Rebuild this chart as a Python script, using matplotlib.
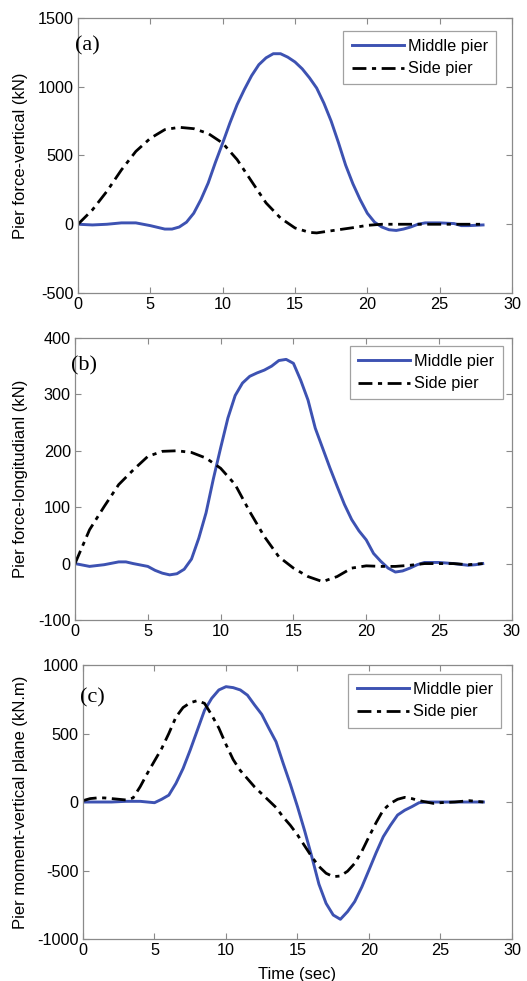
import matplotlib
matplotlib.use("Agg")
from matplotlib import pyplot as plt
from matplotlib.transforms import blended_transform_factory

plt.rc("font", family=["Liberation Sans", "DejaVu Sans"], size=11.7)
plt.rc("axes", unicode_minus=False)

# (a) pier force - vertical
t_a_mid = [0, 1, 2, 3, 4, 5, 6, 6.5, 7, 7.5, 8, 8.5, 9, 9.5, 10, 10.5, 11, 11.5, 12, 12.5,
           13, 13.5, 14, 14.5, 15, 15.5, 16, 16.5, 17, 17.5, 18, 18.5, 19, 19.5, 20, 20.5,
           21, 21.5, 22, 22.5, 23, 23.5, 24, 25, 26, 26.5, 27, 28]
a_mid = [0, -5, 0, 10, 10, -10, -35, -35, -20, 15, 80, 180, 300, 450, 590, 736, 870, 980, 1080, 1160,
         1210, 1240, 1240, 1215, 1180, 1130, 1065, 990, 880, 750, 595, 430, 295, 180, 80, 15,
         -20, -40, -45, -35, -20, 0, 10, 10, 5, -10, -10, -5]
t_a_side = [0, 1, 2, 3, 4, 5, 6, 7, 8, 9, 10, 11, 12, 13, 14, 15, 16, 16.5, 17, 18, 19, 20, 21, 22, 28]
a_side = [0, 105, 240, 395, 530, 625, 688, 705, 695, 660, 590, 470, 312, 155, 45, -27, -59, -63, -55, -40, -25, -8, 0, 0, 0]

# (b) pier force - longitudinal
t_b_mid = [0, 1, 2, 3, 3.5, 4, 5, 5.5, 6, 6.5, 7, 7.5, 8, 8.5, 9, 9.5, 10, 10.5, 11, 11.5,
           12, 12.5, 13, 13.5, 14, 14.5, 15, 15.5, 16, 16.5, 17, 17.5, 18, 18.5, 19, 19.5,
           20, 20.5, 21, 21.5, 22, 22.5, 23, 23.5, 24, 25, 26, 27, 27.5, 28]
b_mid = [0, -5, -2, 3, 3, 0, -5, -12, -17, -20, -18, -10, 8, 45, 90, 150, 205, 258, 298, 320,
         332, 338, 343, 350, 360, 362, 355, 325, 290, 240, 205, 170, 137, 105, 78, 58,
         42, 18, 4, -8, -15, -13, -8, -2, 2, 2, 0, -3, -2, 0]
t_b_side = [0, 1, 2, 3, 4, 5, 6, 7, 8, 9, 10, 11, 12, 13, 14, 15, 16, 17, 18, 19, 20, 21, 22, 23, 24, 26, 27, 28]
b_side = [0, 60, 101, 140, 166, 190, 199, 200, 197, 187, 169, 140, 92, 48, 12, -8, -23, -32, -23, -8, -4, -5, -5, -3, 0, 0, -2, 0]

# (c) pier moment - vertical plane
t_c_mid = [0, 1, 2, 3, 4, 4.5, 5, 5.5, 6, 6.5, 7, 7.5, 8, 8.5, 9, 9.5, 10, 10.5, 11, 11.5,
           12, 12.5, 13, 13.5, 14, 14.5, 15, 15.5, 16, 16.5, 17, 17.5, 18, 18.5, 19, 19.5,
           20, 20.5, 21, 21.5, 22, 22.5, 23, 23.5, 24, 28]
c_mid = [0, 0, 0, 5, 5, 0, -5, 20, 50, 136, 245, 380, 525, 670, 757, 818, 842, 835, 818, 780,
         708, 640, 538, 440, 282, 130, -34, -210, -399, -600, -740, -825, -856, -800, -727, -620,
         -496, -370, -253, -170, -95, -60, -34, -5, 0, 0]
t_c_side = [0, 0.5, 1, 1.5, 2, 2.5, 3, 3.5, 4, 4.5, 5, 5.5, 6, 6.5, 7, 7.5, 8, 8.5, 9, 9.5,
            10, 10.5, 11, 11.5, 12, 12.5, 13, 13.5, 14, 14.5, 15, 15.5, 16, 16.5, 17, 17.5,
            18, 18.5, 19, 19.5, 20, 20.5, 21, 21.5, 22, 22.5, 23, 23.5, 24, 24.5, 25, 26, 27, 27.5, 28]
c_side = [10, 25, 30, 30, 25, 20, 15, 30, 112, 209, 300, 390, 500, 620, 690, 725, 740, 720, 635, 540,
          420, 310, 230, 170, 110, 60, 10, -40, -110, -170, -240, -320, -400, -470, -520, -545,
          -540, -505, -448, -360, -253, -150, -58, -10, 20, 34, 25, 10, 0, -10, -5, 0, 10, 5, 0]

blue = "#3d52b2"
grey = "#8a8a8a"

fig = plt.figure(figsize=(5.27, 9.81), dpi=100)

panels = [
    ([0.148, 0.7013, 0.8235, 0.2804], t_a_mid, a_mid, t_a_side, a_side, (-500, 1500), range(-500, 1501, 500),
     "Pier force-vertical (kN)", "(a)", 0.90, (0.963, 0.953)),
    ([0.1423, 0.368, 0.829, 0.2875], t_b_mid, b_mid, t_b_side, b_side, (-100, 400), range(-100, 401, 100),
     "Pier force-longitudianl (kN)", "(b)", 0.90, (0.979, 0.972)),
    ([0.1575, 0.0428, 0.814, 0.2793], t_c_mid, c_mid, t_c_side, c_side, (-1000, 1000), range(-1000, 1001, 500),
     "Pier moment-vertical plane (kN.m)", "(c)", 0.88, (0.974, 0.967)),
]

for rect, tm, ym, ts, ys, ylim, yticks, ylabel, tag, tag_y, leg_pos in panels:
    ax = fig.add_axes(rect)
    ax.plot(tm, ym, color=blue, lw=2.1, label="Middle pier")
    ax.plot(ts, ys, color="black", lw=2.0, dashes=(5, 2, 1.5, 2), label="Side pier")
    ax.set_xlim(0, 30)
    ax.set_ylim(*ylim)
    ax.set_xticks(range(0, 31, 5))
    ax.set_yticks(list(yticks))
    ax.set_ylabel(ylabel, fontsize=12)
    # same label column for all three panels
    ax.yaxis.set_label_coords(28 / 527, 0.5,
                              transform=blended_transform_factory(fig.transFigure, ax.transAxes))
    for s in ax.spines.values():
        s.set_color(grey)
        s.set_linewidth(0.9)
    ax.tick_params(direction="in", top=True, right=True, length=4, width=0.8,
                   color=grey, labelsize=11.7, pad=3)
    ax.text(-0.008, tag_y, tag, transform=ax.transAxes, family="Liberation Serif",
            fontsize=16, va="center", ha="left")
    leg = ax.legend(loc="upper right", bbox_to_anchor=leg_pos, borderaxespad=0,
                    fontsize=11.7, fancybox=False, handlelength=3.2, handletextpad=0.25,
                    borderpad=0.5, labelspacing=0.45)
    leg.get_frame().set_edgecolor(grey)
    leg.get_frame().set_linewidth(0.9)

ax.set_xlabel("Time (sec)", fontsize=12, labelpad=6)

plt.savefig("out.png", dpi=100)
